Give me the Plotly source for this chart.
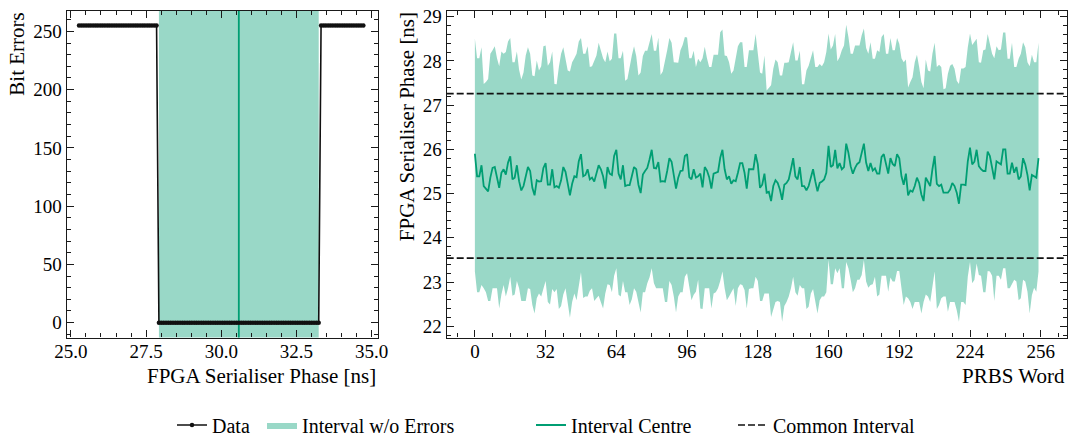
import plotly.graph_objects as go

# ---------------- Left panel data ----------------
phase_start = 25.27
phase_step = 0.078125
bit_errors = [255] * 34 + [0] * 69 + [255] * 19
phase = [round(phase_start + i * phase_step, 5) for i in range(len(bit_errors))]

# ---------------- Right panel data ----------------
upper_edge = [
    28.50, 28.06, 28.06, 28.31, 27.48, 27.52, 27.59, 28.16, 28.24, 28.33,
    28.06, 27.88, 28.21, 28.16, 28.20, 28.44, 28.52, 27.97, 27.97, 28.21,
    27.80, 27.58, 27.74, 28.12, 28.31, 28.16, 27.67, 27.65, 28.01, 27.78,
    27.88, 28.33, 28.35, 27.89, 27.97, 28.21, 27.48, 27.47, 27.86, 28.16,
    28.31, 28.05, 27.78, 27.76, 27.97, 28.06, 28.16, 28.44, 28.52, 28.16,
    28.16, 28.33, 27.86, 27.88, 27.99, 28.12, 28.41, 28.23, 28.06, 27.97,
    28.21, 27.99, 28.05, 28.62, 28.62, 28.06, 28.06, 28.23, 27.55, 27.59,
    27.89, 28.12, 28.33, 28.11, 27.67, 27.74, 28.11, 28.23, 28.23, 28.42,
    28.61, 28.23, 28.23, 28.53, 27.68, 27.76, 27.97, 28.24, 28.52, 28.41,
    27.97, 27.96, 27.96, 28.24, 28.36, 28.54, 28.53, 28.06, 28.06, 28.23,
    27.86, 28.05, 27.97, 28.06, 28.32, 28.06, 27.86, 27.86, 28.14, 28.14,
    28.14, 28.65, 28.71, 28.12, 28.11, 27.97, 27.71, 27.78, 28.11, 28.33,
    28.42, 28.42, 27.86, 27.86, 28.24, 28.24, 28.24, 28.61, 28.20,
    27.74, 27.71, 28.12, 27.33, 27.40, 27.45, 27.82, 28.03, 27.97, 27.67,
    27.67, 27.96, 27.96, 27.97, 28.20, 28.42, 28.01, 28.01, 28.23, 27.47,
    27.47, 27.78, 27.89, 28.05, 28.24, 27.86, 27.86, 27.93, 27.88, 27.97,
    28.20, 28.62, 28.26, 28.35, 28.61, 27.99, 28.08, 28.24, 28.35, 28.82,
    28.54, 28.16, 28.16, 28.35, 28.35, 28.35, 28.58, 28.73, 28.29, 28.16,
    28.42, 28.05, 28.05, 28.24, 28.20, 28.54, 28.61, 28.16, 28.16, 28.52,
    28.24, 28.24, 28.52, 28.39, 28.06, 27.97, 28.03, 27.40, 27.52, 27.63,
    27.97, 28.14, 27.86, 27.52, 27.38, 28.03, 27.78, 27.76, 28.16, 28.41,
    27.86, 27.91, 27.86, 27.36, 27.38, 27.71, 27.89, 27.93, 27.82, 27.55,
    27.48, 27.83, 27.83, 27.86, 28.31, 28.62, 28.36, 28.44, 28.50, 27.97,
    27.96, 28.24, 28.26, 28.61, 28.35, 28.16, 28.06, 28.33, 28.24, 28.26,
    28.64, 28.64, 28.05, 28.05, 28.41, 27.86, 27.86, 28.05, 28.16, 28.42,
    28.31, 27.97, 27.88, 28.14, 27.97, 27.97, 28.41,
]

lower_edge = [
    23.24, 22.77, 22.77, 22.93, 22.86, 22.77, 22.57, 22.57, 22.86, 22.86,
    22.86, 22.40, 22.72, 22.93, 22.67, 22.86, 23.12, 22.69, 22.72, 23.02,
    22.86, 22.57, 22.57, 22.57, 22.86, 22.84, 22.48, 22.29, 22.63, 22.74,
    22.67, 22.86, 23.02, 22.55, 22.49, 22.84, 22.77, 22.84, 22.39, 22.46,
    22.72, 22.86, 22.48, 22.19, 22.55, 22.74, 22.59, 22.97, 23.22, 22.64,
    22.67, 22.67, 22.80, 22.86, 22.57, 22.63, 22.69, 22.54, 22.40, 22.74,
    22.95, 22.93, 22.77, 23.14, 23.31, 22.71, 22.67, 23.02, 22.77, 22.77,
    22.48, 22.61, 22.86, 22.78, 22.55, 22.31, 22.77, 22.77, 22.97, 23.10,
    23.31, 22.97, 22.86, 22.86, 22.86, 22.86, 22.55, 22.55, 23.02, 22.93,
    22.67, 22.31, 22.67, 22.77, 22.77, 23.12, 23.20, 22.86, 22.59, 22.71,
    22.78, 23.05, 22.40, 22.39, 22.86, 22.86, 22.86, 22.40, 22.74, 22.77,
    22.86, 23.02, 23.24, 22.86, 22.59, 22.67, 22.77, 22.86, 22.46, 22.86,
    22.95, 22.93, 22.82, 22.40, 22.84, 22.86, 22.86, 23.12, 23.02,
    22.57, 22.57, 22.74, 22.74, 22.74, 22.21, 22.40, 22.55, 22.57, 22.55,
    22.10, 22.46, 22.55, 22.67, 22.86, 23.12, 22.77, 22.69, 22.93, 22.86,
    22.86, 22.39, 22.44, 22.74, 22.84, 22.55, 22.29, 22.59, 22.67, 22.67,
    22.77, 23.50, 22.95, 22.95, 23.31, 23.20, 23.31, 22.86, 22.86, 23.45,
    23.31, 23.05, 22.77, 22.86, 23.05, 23.05, 23.16, 23.50, 23.01, 22.87,
    22.93, 22.95, 23.12, 22.67, 22.72, 23.14, 23.14, 23.14, 22.78, 23.10,
    23.01, 23.01, 23.25, 23.25, 22.86, 22.48, 22.67, 22.63, 22.55, 22.39,
    22.55, 22.55, 22.55, 22.29, 22.55, 22.72, 22.67, 22.55, 22.93, 23.24,
    22.39, 22.48, 22.63, 22.67, 22.67, 22.33, 22.55, 22.55, 22.55, 22.36,
    22.10, 22.55, 22.55, 22.48, 23.12, 23.45, 22.97, 23.05, 23.42, 23.16,
    23.14, 22.77, 22.77, 23.25, 23.24, 23.14, 22.57, 23.14, 23.14, 23.05,
    23.31, 23.31, 22.86, 22.86, 22.95, 23.05, 23.01, 22.59, 22.63, 23.05,
    23.01, 22.78, 22.29, 22.70, 22.87, 22.78, 23.24,
]

interval_centre = [
    25.90, 25.39, 25.39, 25.64, 25.17, 25.11, 25.05, 25.36, 25.58, 25.60,
    25.39, 25.13, 25.47, 25.55, 25.43, 25.70, 25.84, 25.32, 25.36, 25.64,
    25.28, 25.07, 25.17, 25.39, 25.60, 25.51, 25.13, 24.96, 25.30, 25.27,
    25.28, 25.58, 25.69, 25.20, 25.20, 25.55, 25.14, 25.17, 25.13, 25.30,
    25.60, 25.49, 25.20, 24.96, 25.22, 25.39, 25.37, 25.73, 25.89, 25.39,
    25.42, 25.55, 25.32, 25.36, 25.27, 25.43, 25.64, 25.55, 25.39, 25.11,
    25.60, 25.45, 25.42, 25.85, 25.99, 25.45, 25.32, 25.64, 25.17, 25.19,
    25.19, 25.39, 25.60, 25.55, 25.20, 25.01, 25.43, 25.51, 25.58, 25.77,
    25.99, 25.58, 25.57, 25.71, 25.27, 25.28, 25.27, 25.51, 25.80, 25.72,
    25.43, 25.11, 25.36, 25.51, 25.52, 25.85, 25.89, 25.37, 25.32, 25.55,
    25.36, 25.39, 25.45, 25.14, 25.60, 25.52, 25.37, 25.11, 25.45, 25.47,
    25.49, 25.81, 25.99, 25.55, 25.32, 25.39, 25.22, 25.30, 25.28, 25.47,
    25.69, 25.69, 25.47, 25.11, 25.55, 25.55, 25.55, 25.89, 25.66, 25.13,
    25.20, 25.45, 25.02, 25.04, 24.83, 25.17, 25.30, 25.24, 25.09,
    24.86, 25.20, 25.24, 25.32, 25.55, 25.80, 25.39, 25.32, 25.60, 25.17,
    25.17, 25.07, 25.17, 25.37, 25.55, 25.28, 25.05, 25.24, 25.27, 25.32,
    25.47, 26.08, 25.60, 25.64, 25.99, 25.57, 25.69, 25.55, 25.60, 26.13,
    25.92, 25.62, 25.45, 25.58, 25.67, 25.71, 25.89, 26.13, 25.70, 25.51,
    25.69, 25.52, 25.57, 25.45, 25.45, 25.83, 25.89, 25.64, 25.45, 25.80,
    25.67, 25.62, 25.89, 25.80, 25.39, 25.20, 25.45, 24.96, 25.07, 25.04,
    25.17, 25.36, 25.24, 24.98, 24.83, 25.36, 25.28, 25.17, 25.55, 25.85,
    25.22, 25.17, 25.20, 25.02, 25.02, 25.02, 25.09, 25.24, 25.17, 25.02,
    24.77, 25.20, 25.20, 25.19, 25.73, 26.04, 25.66, 25.72, 25.99, 25.62,
    25.55, 25.51, 25.51, 25.95, 25.85, 25.58, 25.32, 25.73, 25.70, 25.66,
    26.00, 26.00, 25.45, 25.45, 25.70, 25.47, 25.60, 25.32, 25.39, 25.80,
    25.66, 25.42, 25.07, 25.42, 25.39, 25.36, 25.80,
]

prbs_word = list(range(len(upper_edge)))
common_interval = [23.54, 27.26]

x_ticks_right = [0, 32, 64, 96, 128, 160, 192, 224, 256]

# ---------------- Styles ----------------
FONT = "Liberation Serif"
GREEN = "#009E73"
FILL = "rgba(0,158,115,0.4)"
AX = "#1a1a1a"
TICK_SIZE = 19
LABEL_SIZE = 21
LEG_SIZE = 20

ok_phases = [p for p, e in zip(phase, bit_errors) if e == 0]
iv_lo, iv_hi = min(ok_phases), max(ok_phases)
iv_centre = (iv_lo + iv_hi) / 2

fig = go.Figure()

# Right panel fill
fig.add_trace(go.Scatter(x=prbs_word, y=lower_edge, mode="lines", line=dict(width=0),
                         xaxis="x2", yaxis="y2", showlegend=False, hoverinfo="skip"))
fig.add_trace(go.Scatter(x=prbs_word, y=upper_edge, mode="lines", line=dict(width=0),
                         fill="tonexty", fillcolor=FILL, xaxis="x2", yaxis="y2",
                         name="Interval w/o Errors", legend="legend2"))
fig.add_trace(go.Scatter(x=prbs_word, y=interval_centre, mode="lines",
                         line=dict(color=GREEN, width=1.8), xaxis="x2", yaxis="y2",
                         name="Interval Centre", legend="legend3"))
for i, cv in enumerate(common_interval):
    fig.add_trace(go.Scatter(x=[-12.75, 267.75], y=[cv, cv], mode="lines",
                             line=dict(color="#111111", width=1.7, dash="7px,3px"),
                             xaxis="x2", yaxis="y2", name="Common Interval",
                             showlegend=(i == 0), legend="legend4"))

# Left panel data
fig.add_trace(go.Scatter(x=phase, y=bit_errors, mode="lines+markers",
                         line=dict(color="#111111", width=1.6),
                         marker=dict(color="#111111", size=4.5),
                         xaxis="x", yaxis="y", name="Data", legend="legend"))

fig.add_shape(type="rect", xref="x", yref="y domain", x0=iv_lo, x1=iv_hi, y0=0, y1=1,
              fillcolor=FILL, line=dict(width=0), layer="below")
fig.add_shape(type="line", xref="x", yref="y domain", x0=iv_centre, x1=iv_centre, y0=0, y1=1,
              line=dict(color=GREEN, width=1.8), layer="below")

W, H = 1074, 439
ydom = [1 - 337.5 / H, 1 - 10.7 / H]

common_axis = dict(showline=True, linecolor=AX, linewidth=1.3, mirror="allticks",
                   ticks="inside", ticklen=7, tickwidth=1.3, tickcolor=AX,
                   showgrid=False, zeroline=False, automargin=False,
                   tickfont=dict(family=FONT, size=TICK_SIZE, color="black"))
minor_common = dict(ticks="inside", ticklen=4, tickcolor=AX, tickwidth=1.1, showgrid=False)

leg_common = dict(orientation="h", y=1 - 425 / H, yanchor="middle", xanchor="left",
                  font=dict(family=FONT, size=LEG_SIZE), itemwidth=30,
                  bgcolor="rgba(0,0,0,0)", borderwidth=0)

fig.update_layout(
    width=W, height=H,
    margin=dict(l=0, r=0, t=0, b=0, autoexpand=False),
    paper_bgcolor="white", plot_bgcolor="white",
    font=dict(family=FONT, size=TICK_SIZE, color="black"),
    xaxis=dict(domain=[66.7 / W, 377.7 / W], range=[24.86, 35.2],
               tickvals=[25, 27.5, 30, 32.5, 35], ticktext=["25.0", "27.5", "30.0", "32.5", "35.0"],
               minor=dict(dtick=0.5, tick0=25, **minor_common), ticklabelstandoff=-3,
               anchor="y", **common_axis),
    yaxis=dict(domain=ydom, range=[-12.75, 267.75], tickvals=[0, 50, 100, 150, 200, 250],
               minor=dict(dtick=10, tick0=0, **minor_common),
               anchor="x", **common_axis),
    xaxis2=dict(domain=[446.7 / W, 1066.7 / W], range=[-12.75, 267.75],
                tickvals=x_ticks_right, ticklabelstandoff=-3,
                minor=dict(dtick=8, tick0=0, **minor_common),
                anchor="y2", **common_axis),
    yaxis2=dict(domain=ydom, range=[21.745, 29.135], tickvals=[22, 23, 24, 25, 26, 27, 28, 29],
                minor=dict(dtick=0.2, tick0=22, **minor_common),
                anchor="x2", **common_axis),
    legend=dict(x=172 / W, **leg_common),
    legend2=dict(x=262 / W, **leg_common),
    legend3=dict(x=531 / W, **leg_common),
    legend4=dict(x=733 / W, **leg_common),
    annotations=[
        dict(text="Bit Errors", x=17.5 / W, y=ydom[1], xref="paper", yref="paper",
             xanchor="center", yanchor="top", textangle=-90, showarrow=False,
             font=dict(family=FONT, size=LABEL_SIZE)),
        dict(text="FPGA Serialiser Phase [ns]", x=407 / W, y=ydom[1], xref="paper", yref="paper",
             xanchor="center", yanchor="top", textangle=-90, showarrow=False,
             font=dict(family=FONT, size=LABEL_SIZE)),
        dict(text="FPGA Serialiser Phase [ns]", x=377.7 / W, y=1 - 376 / H, xref="paper", yref="paper",
             xanchor="right", yanchor="middle", showarrow=False, font=dict(family=FONT, size=LABEL_SIZE)),
        dict(text="PRBS Word", x=1066.7 / W, y=1 - 376 / H, xref="paper", yref="paper",
             xanchor="right", yanchor="middle", showarrow=False, font=dict(family=FONT, size=LABEL_SIZE)),
    ],
)

fig.write_html("out.html", config={"displayModeBar": False},
               post_script="document.body.style.margin='0px';document.body.style.overflow='hidden';")
